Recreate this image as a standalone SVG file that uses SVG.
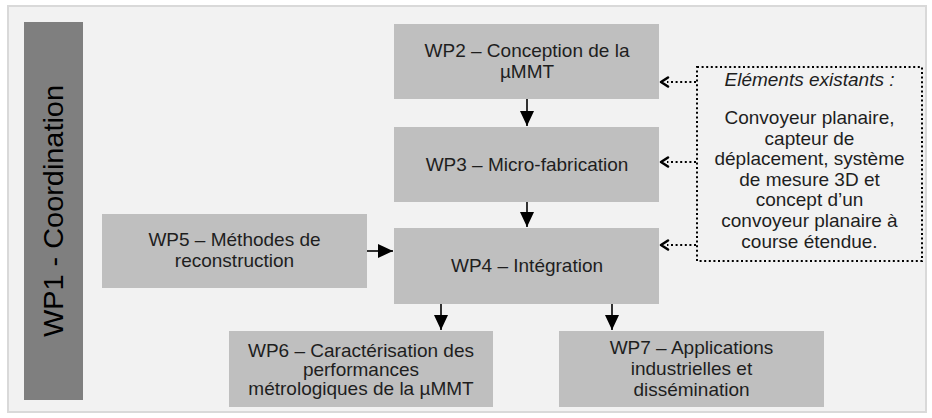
<svg xmlns="http://www.w3.org/2000/svg" width="932" height="418" viewBox="0 0 932 418">
  <style>
    .box { fill: #bfbfbf; }
    .t { font-family: "Liberation Sans", Arial, sans-serif; font-size: 19px; fill: #1e1e1e; text-anchor: middle; }
    .solid { stroke: #000; stroke-width: 1.6; fill: none; }
    .dot { stroke: #000; stroke-width: 2; stroke-dasharray: 2 2.6; fill: none; }
    .chev { stroke: #000; stroke-width: 2.6; fill: none; stroke-linecap: round; stroke-linejoin: round; }
  </style>
  <defs>
    <marker id="ah" markerUnits="userSpaceOnUse" markerWidth="15" markerHeight="15" refX="15" refY="7" orient="auto">
      <path d="M0,0 L15,7 L0,14 Z" fill="#000"/>
    </marker>
  </defs>
  <rect x="0" y="0" width="932" height="418" fill="#ffffff"/>
  <rect x="8" y="6" width="918" height="406" fill="#f2f2f2" stroke="#d9d9d9" stroke-width="2"/>

  <g id="wp1">
    <rect x="24" y="22" width="59" height="378" fill="#7f7f7f"/>
    <text transform="translate(63,211) rotate(-90)" font-family="Liberation Sans, Arial, sans-serif" font-size="28" text-anchor="middle" fill="#000" textLength="252" lengthAdjust="spacingAndGlyphs">WP1 - Coordination</text>
  </g>

  <g id="wp2">
    <rect class="box" x="394" y="24" width="265" height="75"/>
    <text class="t" x="527" y="56.5">WP2 – Conception de la</text>
    <text class="t" x="527" y="77.5">µMMT</text>
  </g>

  <g id="wp3">
    <rect class="box" x="394" y="127" width="265" height="75"/>
    <text class="t" x="527" y="171">WP3 – Micro-fabrication</text>
  </g>

  <g id="wp4">
    <rect class="box" x="394" y="228" width="265" height="76"/>
    <text class="t" x="527" y="272">WP4 – Intégration</text>
  </g>

  <g id="wp5">
    <rect class="box" x="102" y="214" width="265" height="74"/>
    <text class="t" x="234.5" y="245.5">WP5 – Méthodes de</text>
    <text class="t" x="234.5" y="267">reconstruction</text>
  </g>

  <g id="wp6">
    <rect class="box" x="229" y="331" width="264" height="76"/>
    <text class="t" x="361" y="357">WP6 – Caractérisation des</text>
    <text class="t" x="361" y="376">performances</text>
    <text class="t" x="361" y="395">métrologiques de la µMMT</text>
  </g>

  <g id="wp7">
    <rect class="box" x="559" y="331" width="265" height="76"/>
    <text class="t" x="691.5" y="353.5">WP7 – Applications</text>
    <text class="t" x="691.5" y="374.5">industrielles et</text>
    <text class="t" x="691.5" y="395.5">dissémination</text>
  </g>

  <g id="existants">
    <rect x="697" y="67" width="225" height="194" fill="#d9d9d9" class="dot"/>
    <text class="t" x="809.5" y="86" font-style="italic">Eléments existants :</text>
    <text class="t" x="809.5" y="124">Convoyeur planaire,</text>
    <text class="t" x="809.5" y="144.6">capteur de</text>
    <text class="t" x="809.5" y="165.2">déplacement, système</text>
    <text class="t" x="809.5" y="185.8">de mesure 3D et</text>
    <text class="t" x="809.5" y="206.4">concept d’un</text>
    <text class="t" x="809.5" y="227">convoyeur planaire à</text>
    <text class="t" x="809.5" y="247.6">course étendue.</text>
  </g>

  <g id="connectors">
    <line class="solid" x1="527" y1="99" x2="527" y2="126" marker-end="url(#ah)"/>
    <line class="solid" x1="527" y1="202" x2="527" y2="227" marker-end="url(#ah)"/>
    <line class="solid" x1="367" y1="251" x2="393" y2="251" marker-end="url(#ah)"/>
    <line class="solid" x1="441" y1="304" x2="441" y2="330" marker-end="url(#ah)"/>
    <line class="solid" x1="612" y1="304" x2="612" y2="330" marker-end="url(#ah)"/>

    <line class="dot" x1="696" y1="82" x2="667" y2="82"/>
    <polyline class="chev" points="668,77.5 661,82 668,86.5"/>
    <line class="dot" x1="696" y1="162" x2="667" y2="162"/>
    <polyline class="chev" points="668,157.5 661,162 668,166.5"/>
    <line class="dot" x1="696" y1="245" x2="667" y2="245"/>
    <polyline class="chev" points="668,240.5 661,245 668,249.5"/>
  </g>
</svg>
